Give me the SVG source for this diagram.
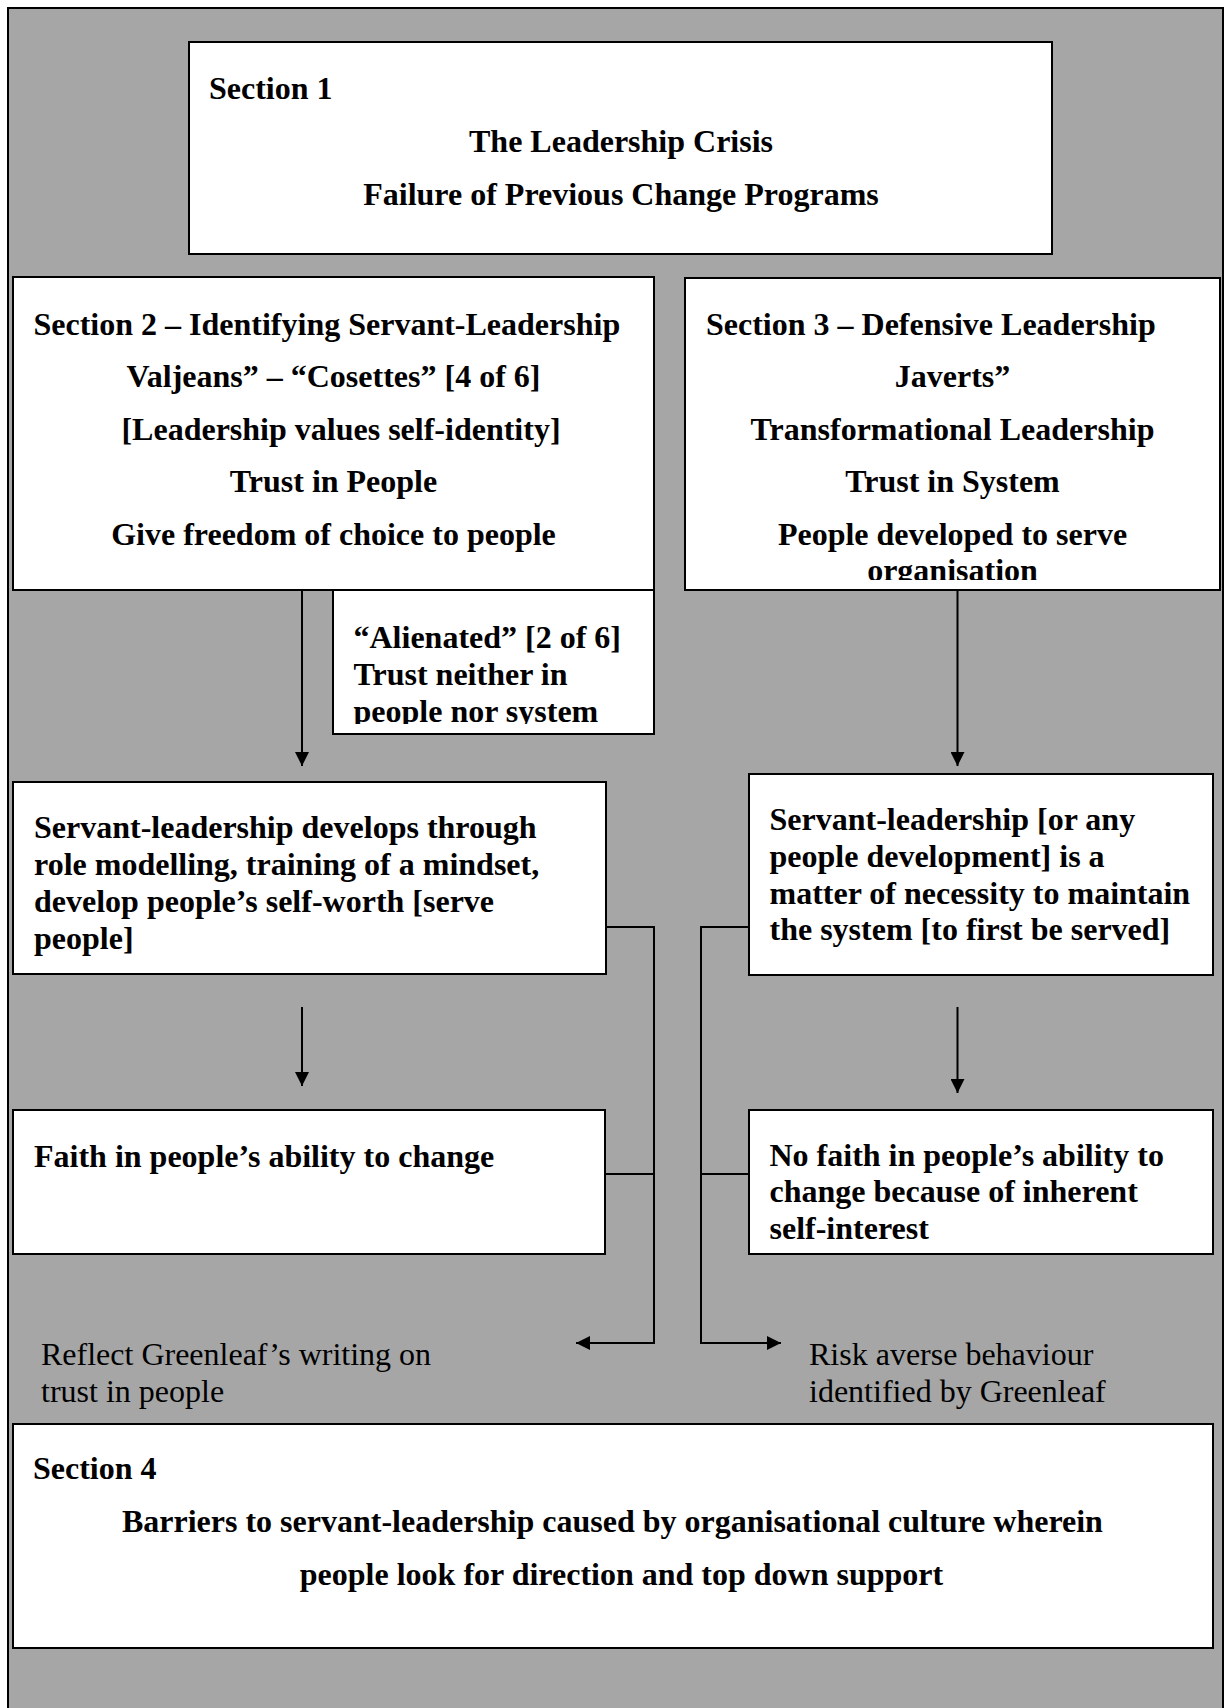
<svg xmlns="http://www.w3.org/2000/svg" width="1229" height="1708" viewBox="0 0 1229 1708">
  <style>
    .box { fill: #ffffff; stroke: #000000; stroke-width: 2; }
    .t { font-family: "Liberation Serif", "Times New Roman", serif; font-size: 32px; font-weight: bold; fill: #000000; }
    .n { font-family: "Liberation Serif", "Times New Roman", serif; font-size: 32px; font-weight: normal; fill: #000000; }
    .c { text-anchor: middle; }
    .ln { fill: none; stroke: #000000; stroke-width: 2; }
  </style>
  <defs>
    <marker id="arr" viewBox="0 0 14 14" refX="14" refY="7" markerWidth="14" markerHeight="14" markerUnits="userSpaceOnUse" orient="auto">
      <path d="M0,0 L14,7 L0,14 Z" fill="#000000"/>
    </marker>
    <clipPath id="clip3"><rect x="685" y="278" width="535" height="302"/></clipPath>
    <clipPath id="clipA"><rect x="333" y="590" width="321" height="134"/></clipPath>
  </defs>

  <rect id="background" x="8" y="8" width="1215" height="1720" fill="#a6a6a6" stroke="#000000" stroke-width="2"/>

  <g id="section1">
    <rect class="box" x="189" y="42" width="863" height="212"/>
    <text class="t" x="209" y="99">Section 1</text>
    <text class="t c" x="621" y="152">The Leadership Crisis</text>
    <text class="t c" x="621" y="205">Failure of Previous Change Programs</text>
  </g>

  <g id="section2">
    <rect class="box" x="13" y="277" width="641" height="313"/>
    <text class="t" x="33.5" y="335">Section 2 – Identifying Servant-Leadership</text>
    <text class="t c" x="333.5" y="387.4">Valjeans” – “Cosettes” [4 of 6]</text>
    <text class="t c" x="341" y="439.8">[Leadership values self-identity]</text>
    <text class="t c" x="333.5" y="492.2">Trust in People</text>
    <text class="t c" x="333.5" y="544.6">Give freedom of choice to people</text>
  </g>

  <g id="section3">
    <rect class="box" x="685" y="278" width="535" height="312"/>
    <g clip-path="url(#clip3)">
      <text class="t" x="706" y="335">Section 3 – Defensive Leadership</text>
      <text class="t c" x="952.5" y="387.4">Javerts”</text>
      <text class="t c" x="952.5" y="439.8">Transformational Leadership</text>
      <text class="t c" x="952.5" y="492.2">Trust in System</text>
      <text class="t c" x="952.5" y="544.6">People developed to serve</text>
      <text class="t c" x="952.5" y="581.4">organisation</text>
    </g>
  </g>

  <g id="alienated">
    <rect class="box" x="333" y="590" width="321" height="144"/>
    <g clip-path="url(#clipA)">
      <text class="t" x="353.5" y="648">“Alienated” [2 of 6]</text>
      <text class="t" x="353.5" y="684.8">Trust neither in</text>
      <text class="t" x="353.5" y="721.6">people nor system</text>
    </g>
  </g>

  <g id="servant-left">
    <rect class="box" x="13" y="782" width="593" height="192"/>
    <text class="t" x="34" y="838.3">Servant-leadership develops through</text>
    <text class="t" x="34" y="875.1">role modelling, training of a mindset,</text>
    <text class="t" x="34" y="911.9">develop people’s self-worth [serve</text>
    <text class="t" x="34" y="948.7">people]</text>
  </g>

  <g id="servant-right">
    <rect class="box" x="749" y="774" width="464" height="201"/>
    <text class="t" x="769.5" y="830">Servant-leadership [or any</text>
    <text class="t" x="769.5" y="866.8">people development] is a</text>
    <text class="t" x="769.5" y="903.6">matter of necessity to maintain</text>
    <text class="t" x="769.5" y="940.4">the system [to first be served]</text>
  </g>

  <g id="faith">
    <rect class="box" x="13" y="1110" width="592" height="144"/>
    <text class="t" x="34" y="1166.5">Faith in people’s ability to change</text>
  </g>

  <g id="nofaith">
    <rect class="box" x="749" y="1110" width="464" height="144"/>
    <text class="t" x="769.5" y="1165.5">No faith in people’s ability to</text>
    <text class="t" x="769.5" y="1202.3">change because of inherent</text>
    <text class="t" x="769.5" y="1239.1">self-interest</text>
  </g>

  <g id="label-left">
    <text class="n" x="41" y="1365">Reflect Greenleaf’s writing on</text>
    <text class="n" x="41" y="1401.7">trust in people</text>
  </g>

  <g id="label-right">
    <text class="n" x="809" y="1365">Risk averse behaviour</text>
    <text class="n" x="809" y="1401.7">identified by Greenleaf</text>
  </g>

  <g id="section4">
    <rect class="box" x="13" y="1424" width="1200" height="224"/>
    <text class="t" x="33" y="1479">Section 4</text>
    <text class="t c" x="612.4" y="1531.7">Barriers to servant-leadership caused by organisational culture wherein</text>
    <text class="t c" x="621.5" y="1584.5">people look for direction and top down support</text>
  </g>

  <g id="connectors">
    <line class="ln" x1="302" y1="590" x2="302" y2="766" marker-end="url(#arr)"/>
    <line class="ln" x1="957.5" y1="590" x2="957.5" y2="766" marker-end="url(#arr)"/>
    <line class="ln" x1="302" y1="1007" x2="302" y2="1086" marker-end="url(#arr)"/>
    <line class="ln" x1="957.5" y1="1007" x2="957.5" y2="1093" marker-end="url(#arr)"/>
    <polyline class="ln" points="606,927 654,927 654,1343 576,1343" marker-end="url(#arr)"/>
    <line class="ln" x1="605" y1="1174" x2="654" y2="1174"/>
    <polyline class="ln" points="749,927 701,927 701,1343 781,1343" marker-end="url(#arr)"/>
    <line class="ln" x1="749" y1="1174" x2="701" y2="1174"/>
  </g>
</svg>
